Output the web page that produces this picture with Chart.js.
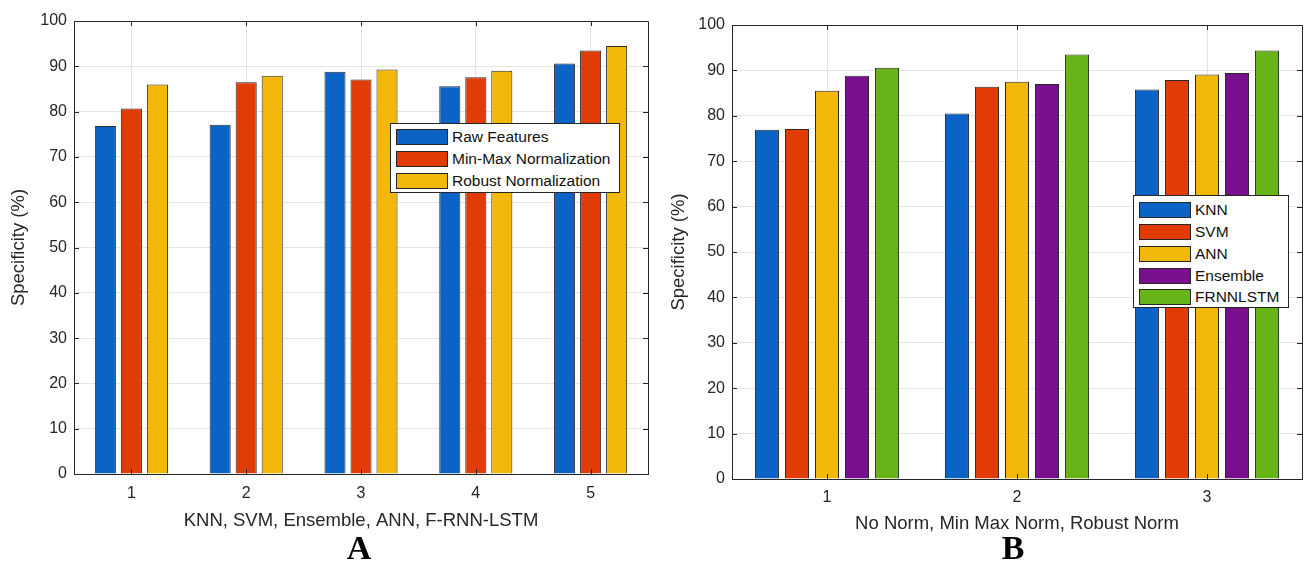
<!DOCTYPE html>
<html>
<head>
<meta charset="utf-8">
<script src="https://cdn.jsdelivr.net/npm/chart.js@4.4.1/dist/chart.umd.min.js"></script>
<style>
  html, body { margin: 0; padding: 0; background: #ffffff; }
  body { width: 1308px; height: 562px; position: relative; overflow: hidden; font-family: "Liberation Sans", Arial, sans-serif; }
  .panel { position: absolute; top: 0; height: 562px; }
  .legend { position: absolute; background: #ffffff; border: 1px solid #262626; box-sizing: border-box; }
  .legend .row { position: absolute; left: 0; right: 0; height: 18px; }
  .legend .sw { position: absolute; left: 5px; top: 1px; width: 52px; height: 16px; border: 1px solid #262626; box-sizing: border-box; }
  .legend .tx { position: absolute; left: 61px; top: 0; line-height: 18px; font-size: 15.5px; color: #111; white-space: nowrap; }
  .letter { position: absolute; font-family: "Liberation Serif", "Times New Roman", serif; font-weight: bold; font-size: 34px; color: #000; line-height: 34px; transform: translateX(-50%); }
</style>
</head>
<body>
<div class="panel" style="left:0;width:660px;"><canvas id="chartA"></canvas></div>
<div class="panel" style="left:660px;width:648px;"><canvas id="chartB"></canvas></div>
<div class="legend" id="legendA" style="left:390px;top:123px;width:230px;height:70px;"></div>
<div class="legend" id="legendB" style="left:1133px;top:195px;width:156px;height:113px;"></div>
<div class="letter" style="left:359px;top:531px;">A</div>
<div class="letter" style="left:1013px;top:531px;">B</div>
<script>
// ---------- Data ----------
const yTicks = [0, 10, 20, 30, 40, 50, 60, 70, 80, 90, 100];

// Panel A
const categoriesA = ['1', '2', '3', '4', '5'];
const seriesNamesA = ['Raw Features', 'Min-Max Normalization', 'Robust Normalization'];
const rawFeatures = [76.8, 77.1, 88.8, 85.6, 90.6];
const minMaxNormalization = [80.7, 86.5, 87.1, 87.6, 93.5];
const robustNormalization = [86.0, 87.9, 89.3, 89.0, 94.5];
const xTitleA = 'KNN, SVM, Ensemble, ANN, F-RNN-LSTM';

// Panel B
const categoriesB = ['1', '2', '3'];
const seriesNamesB = ['KNN', 'SVM', 'ANN', 'Ensemble', 'FRNNLSTM'];
const knn = [76.9, 80.5, 85.8];
const svm = [77.1, 86.4, 87.9];
const ann = [85.5, 87.5, 89.1];
const ensemble = [88.8, 87.0, 89.4];
const frnnlstm = [90.6, 93.5, 94.4];
const xTitleB = 'No Norm, Min Max Norm, Robust Norm';

const yTitle = 'Specificity (%)';

// ---------- Style ----------
const colors = ['#0b63c6', '#e23c06', '#f1b80a', '#780f8c', '#68b418'];
const axisColor = '#262626';
const gridColor = '#e4e4e4';
Chart.defaults.font.family = '"Liberation Sans", Arial, sans-serif';
Chart.defaults.color = axisColor;

const boxPlugin = {
  id: 'boxTicks',
  afterDraw(chart) {
    const {ctx, chartArea: a} = chart;
    const xs = chart.scales.x, ys = chart.scales.y;
    ctx.save();
    ctx.strokeStyle = axisColor;
    ctx.lineWidth = 1;
    ctx.beginPath();
    ctx.rect(Math.round(a.left) + 0.5, Math.round(a.top) + 0.5, Math.round(a.right - a.left), Math.round(a.bottom - a.top));
    ctx.stroke();
    ctx.beginPath();
    ys.ticks.forEach(t => {
      const y = Math.round(ys.getPixelForValue(t.value)) + 0.5;
      ctx.moveTo(a.left, y); ctx.lineTo(a.left + 5, y);
      ctx.moveTo(a.right, y); ctx.lineTo(a.right - 5, y);
    });
    xs.ticks.forEach((t, i) => {
      const x = Math.round(xs.getPixelForTick(i)) + 0.5;
      ctx.moveTo(x, a.bottom); ctx.lineTo(x, a.bottom - 5);
      ctx.moveTo(x, a.top); ctx.lineTo(x, a.top + 5);
    });
    ctx.stroke();
    ctx.restore();
  }
};

function makeChart(id, cats, names, seriesList, xTitle, opts) {
  const datasets = seriesList.map((d, i) => ({
    label: names[i],
    data: d,
    backgroundColor: colors[i],
    borderColor: '#2a2a2a',
    borderWidth: 1,
    categoryPercentage: opts.cat,
    barPercentage: opts.bar
  }));
  return new Chart(document.getElementById(id), {
    type: 'bar',
    data: { labels: cats, datasets },
    plugins: [boxPlugin],
    options: {
      responsive: true,
      maintainAspectRatio: false,
      animation: false,
      layout: { padding: { left: 0, right: opts.padRight, top: opts.padTop, bottom: 0 } },
      plugins: { legend: { display: false }, tooltip: { enabled: false } },
      scales: {
        x: {
          offset: true,
          grid: { display: true, offset: false, color: gridColor, drawTicks: false },
          border: { display: true, color: axisColor, width: 1 },
          ticks: { padding: opts.xTickPad, font: { size: 16 }, color: axisColor },
          title: { display: true, text: xTitle, font: { size: 18.5 }, color: axisColor, padding: { top: 0, bottom: opts.xTitlePad } },
          afterFit(s) { s.height = opts.xHeight; }
        },
        y: {
          min: 0, max: 100,
          afterBuildTicks(s) { s.ticks = yTicks.map(v => ({ value: v })); },
          grid: { color: gridColor, drawTicks: false },
          border: { display: true, color: axisColor, width: 1 },
          ticks: { padding: 7, font: { size: 16 }, color: axisColor },
          title: { display: true, text: yTitle, font: { size: 18.5 }, color: axisColor, padding: { top: 8, bottom: 0 } },
          afterFit(s) { s.width = opts.yWidth; }
        }
      }
    }
  });
}

makeChart('chartA', categoriesA, seriesNamesA, [rawFeatures, minMaxNormalization, robustNormalization], xTitleA,
  { cat: 0.68, bar: 0.81, padRight: 12, padTop: 21, xHeight: 88, yWidth: 74, xTickPad: 10, xTitlePad: 30 });
makeChart('chartB', categoriesB, seriesNamesB, [knn, svm, ann, ensemble, frnnlstm], xTitleB,
  { cat: 0.79, bar: 0.8, padRight: 6, padTop: 25, xHeight: 83, yWidth: 72, xTickPad: 9, xTitlePad: 27 });

function buildLegend(id, names, offsets) {
  const el = document.getElementById(id);
  names.forEach((n, i) => {
    const row = document.createElement('div');
    row.className = 'row';
    row.style.top = (offsets[i] - 9) + 'px';
    const sw = document.createElement('div');
    sw.className = 'sw';
    sw.style.background = colors[i];
    const tx = document.createElement('div');
    tx.className = 'tx';
    tx.textContent = n;
    row.appendChild(sw); row.appendChild(tx);
    el.appendChild(row);
  });
}
buildLegend('legendA', seriesNamesA, [13, 35, 57]);
buildLegend('legendB', seriesNamesB, [14, 36, 58, 80, 101]);
</script>
</body>
</html>
